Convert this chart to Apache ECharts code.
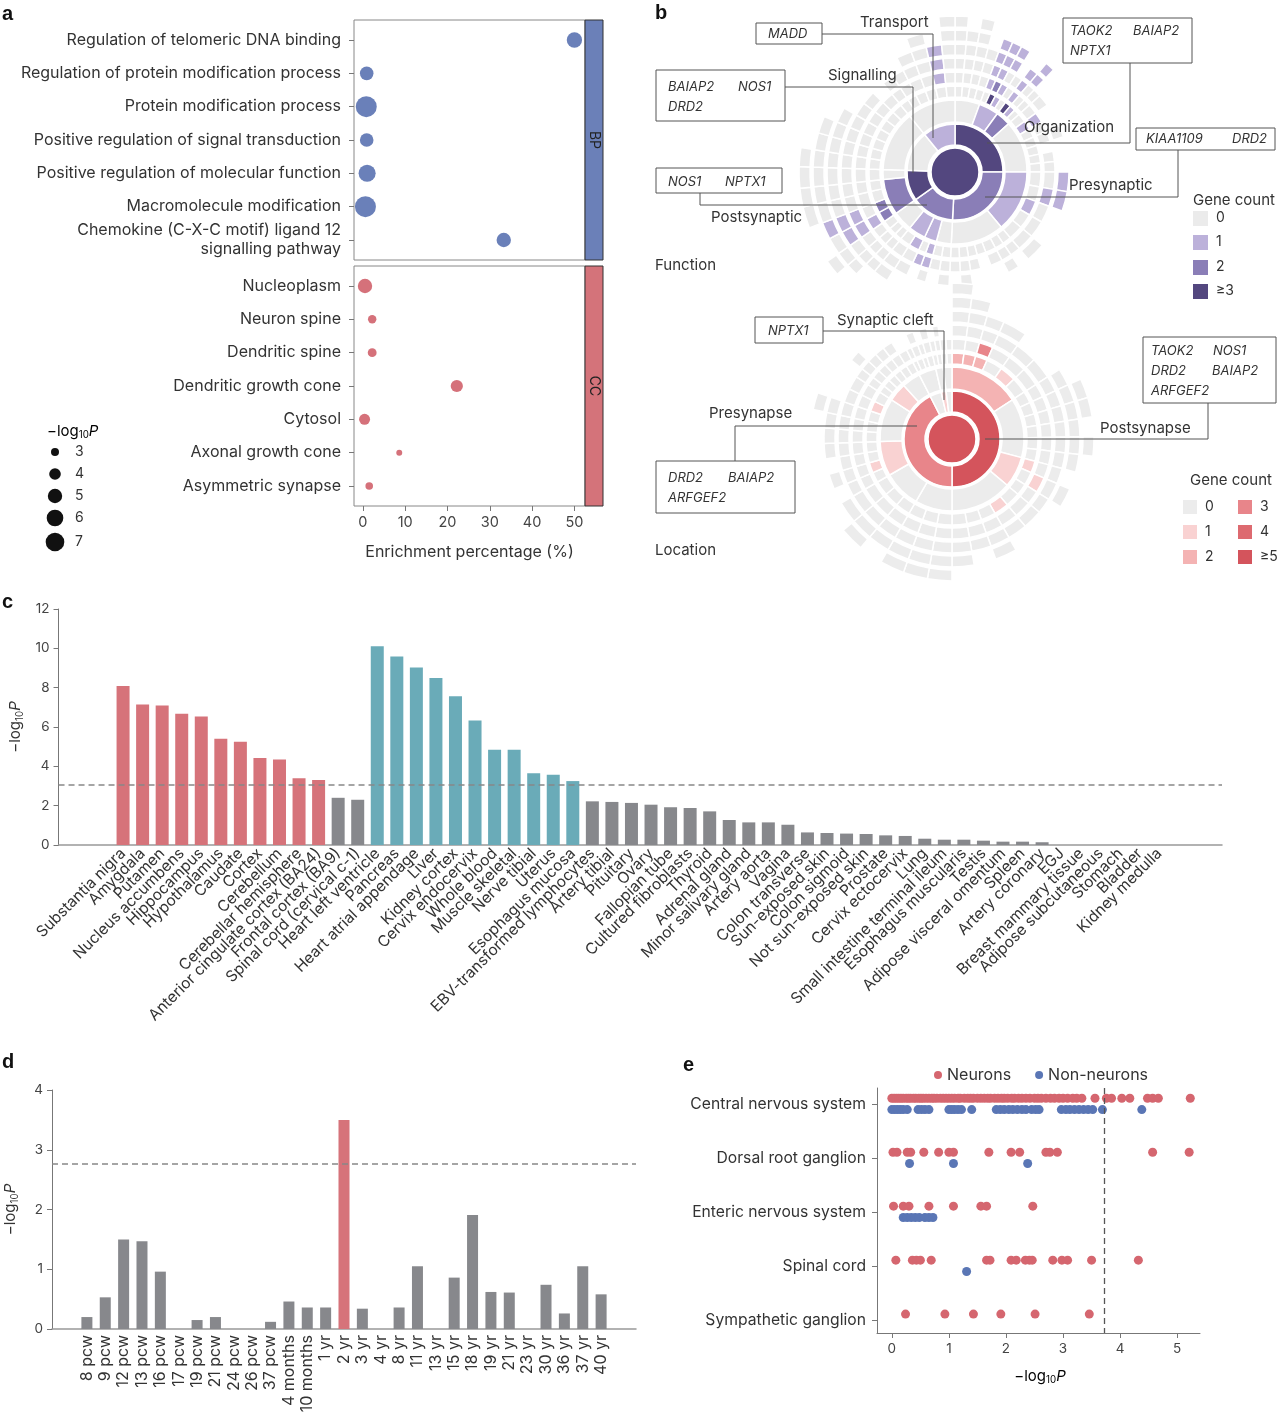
<!DOCTYPE html>
<html><head><meta charset="utf-8">
<script src="https://cdn.jsdelivr.net/npm/echarts@6/dist/echarts.min.js"></script>
<style>html,body{margin:0;padding:0;background:#fff}#c{width:1280px;height:1416px}</style>
</head><body><div id="c"></div><script>
// ---------- Panel a ----------
const bpTerms = ['Regulation of telomeric DNA binding','Regulation of protein modification process','Protein modification process','Positive regulation of signal transduction','Positive regulation of molecular function','Macromolecule modification','Chemokine (C-X-C motif) ligand 12\nsignalling pathway'];
const bpEnrich = [50.0, 0.9, 0.8, 0.9, 1.0, 0.6, 33.3];
const bpLogP = [5.4, 4.7, 8.3, 4.7, 6.2, 8.3, 5.0];
const ccTerms = ['Nucleoplasm','Neuron spine','Dendritic spine','Dendritic growth cone','Cytosol','Axonal growth cone','Asymmetric synapse'];
const ccEnrich = [0.5, 2.2, 2.2, 22.2, 0.4, 8.6, 1.5];
const ccLogP = [5.0, 3.1, 3.2, 4.2, 3.8, 2.6, 2.9];
const sizeBreaks = [3, 4, 5, 6, 7];
const enrichTicks = [0, 10, 20, 30, 40, 50];

// ---------- Panel b (sunbursts) ----------
// L2 entry: [name, geneCount, L3 list]; L3: [geneCount, width, spokes]; spoke: [width, count L4, count L5, ...]
const functionL2 = [
  ['Organization', 3, [
    [0, 20, [[5,0,0,0,0,0,0],[5,0,0,0,0,0],[5,0,0,0,0,0,0],[5,0,0,0,0]]],
    [1, 16, [[4,0,1,1,1,1],[4,3,2,1,1,1],[4,1,1,0,1,1],[4,0,0,0]]],
    [2, 12, [[4,3,1,1,1],[4,1,0,0,1,1],[4,0,0,0]]],
    [0, 42, [[6,0,0,0],[6,1,1],[6,0,0],[6,0,0,0],[6,0],[6,0,0],[6,0,0]]]
  ]],
  ['Presynaptic', 2, [
    [1, 50, [[10,0,0,1],[10,0,1,1],[10,1,0],[10,0,0],[10,0,0,0]]],
    [0, 43, [[6,0,0],[6,0,0,0],[7,0,0],[6,0],[6,0,0],[6,0,0,0],[6,0,0]]]
  ]],
  ['Postsynaptic', 2, [
    [0, 12, [[6,0,0,0],[6,0,0]]],
    [1, 10, [[5,1,1,0],[5,0,1]]],
    [1, 14, [[7,1,0,0],[7,0,0,0,0]]],
    [0, 16, [[5,0,0,0,0],[5,0,0,0,0,0],[6,0,0,0,0,0,0]]]
  ]],
  ['Signalling', 3, [
    [2, 29, [[7,2,1,1,1,0],[7,2,0,1,1,1],[8,0,0,0,0,0,0],[7,0,0,0,0,0,0]]],
    [0, 8, [[8,0,0,0,0,0,0]]]
  ]],
  ['Other', 0, [
    [0, 49, [[7,0,0,0,0,0,0],[7,0,0,0,0,0],[7,0,0,0,0,0],[7,0,0,0,0],[7,0,0,0],[7,0,0,0],[7,0,0]]]
  ]],
  ['Transport', 1, [
    [0, 39, [[6,0,0,0],[6,0,0,0],[7,0,0,0,0],[7,0,0,0,0,0],[7,0,1,1,1],[6,0,0,0,0,0,0]]]
  ]]
];
const locationL2 = [
  ['Postsynapse', 5, [
    [2, 57, [[8,2,0,0,0,0,0],[8,2,0,0,0,0],[8,2,3,0,0],[11,0,0,0,0],[11,1,0,0],[11,0,0,0]]],
    [0, 48, [[8,0,0,0,0],[8,0,0,0,0,0],[8,0,0,0,0,0],[8,0,0,0,0],[8,0,0,0,0,0],[8,0,0,0,0]]],
    [1, 25, [[8,1,0,0],[9,0,1,0,0],[8,0,0,0]]],
    [0, 50, [[10,0,0,0],[10,1,0,0],[10,0,0,0,0],[10,0,0,0],[10,0,0,0,0]]]
  ]],
  ['Presynapse', 3, [
    [0, 30, [[10,0,0,0,0,0],[10,0,0,0,0,0],[10,0,0,0,0,0]]],
    [0, 30, [[10,0,0,0,0],[10,0,0,0,0,0],[10,0,0,0,0]]],
    [1, 28, [[7,0,0,0],[7,1,0,0,0],[7,0,0,0],[7,0,0,0,0]]],
    [0, 35, [[7,0,0,0,0],[7,0,0,0,0],[7,0,0,0,0,0],[7,1,0,0],[7,0,0,0]]],
    [1, 15, [[5,0,0,0],[5,0,0,0,0],[5,0,0,0]]],
    [0, 15, [[5,0,0,0],[5,0,0,0],[5,0,0]]]
  ]],
  ['Other', 0, [
    [0, 14, [[3,0,0],[4,0,0,0],[3,0,0],[4,0,0,0]]]
  ]],
  ['Synaptic cleft', 1, [
    [0, 6, [[3,0,0],[3,0,0,0]]]
  ]],
  ['Other2', 0, [
    [0, 7, [[3.5,0,0],[3.5,0,0]]]
  ]]
];
const purpleScale = ['#ebebeb','#bcb1da','#8a7eb7','#53477f'];
const redScale = ['#ececec','#f9d2d2','#f4b3b3','#e8858a','#dd6a70','#d4545c'];

// ---------- Panel c ----------
const tissues = ['Substantia nigra','Amygdala','Putamen','Nucleus accumbens','Hippocampus','Hypothalamus','Caudate','Cortex','Cerebellum','Cerebellar hemisphere','Anterior cingulate cortex (BA24)','Frontal cortex (BA9)','Spinal cord (cervical c-1)','Heart left ventricle','Pancreas','Heart atrial appendage','Liver','Kidney cortex','Cervix endocervix','Whole blood','Muscle skeletal','Nerve tibial','Uterus','Esophagus mucosa','EBV-transformed lymphocytes','Artery tibial','Pituitary','Ovary','Fallopian tube','Cultured fibroblasts','Thyroid','Adrenal gland','Minor salivary gland','Artery aorta','Vagina','Colon transverse','Sun-exposed skin','Colon sigmoid','Not sun-exposed skin','Prostate','Cervix ectocervix','Lung','Small intestine terminal ileum','Esophagus muscularis','Testis','Adipose visceral omentum','Spleen','Artery coronary','EGJ','Breast mammary tissue','Adipose subcutaneous','Stomach','Bladder','Kidney medulla'];
const tissueLogP = [8.09,7.14,7.09,6.67,6.53,5.40,5.25,4.42,4.35,3.40,3.30,2.40,2.30,10.10,9.59,9.02,8.49,7.56,6.33,4.84,4.84,3.65,3.57,3.25,2.22,2.19,2.14,2.05,1.92,1.88,1.71,1.27,1.15,1.15,1.03,0.64,0.61,0.58,0.56,0.49,0.46,0.32,0.27,0.27,0.22,0.17,0.17,0.14,0,0,0,0,0,0];
const tissueGroup = ['B','B','B','B','B','B','B','B','B','B','B','N','N','T','T','T','T','T','T','T','T','T','T','T','N','N','N','N','N','N','N','N','N','N','N','N','N','N','N','N','N','N','N','N','N','N','N','N','N','N','N','N','N','N'];
const tissueThreshold = 3.05;

// ---------- Panel d ----------
const stages = ['8 pcw','9 pcw','12 pcw','13 pcw','16 pcw','17 pcw','19 pcw','21 pcw','24 pcw','26 pcw','37 pcw','4 months','10 months','1 yr','2 yr','3 yr','4 yr','8 yr','11 yr','13 yr','15 yr','18 yr','19 yr','21 yr','23 yr','30 yr','36 yr','37 yr','40 yr'];
const stageLogP = [0.20,0.53,1.50,1.47,0.96,0,0.15,0.20,0,0,0.12,0.46,0.36,0.36,3.50,0.34,0,0.36,1.05,0,0.86,1.91,0.62,0.61,0,0.74,0.26,1.05,0.58];
const stageSignificant = ['2 yr'];
const stageThreshold = 2.76;

// ---------- Panel e ----------
const nsTypes = ['Central nervous system','Dorsal root ganglion','Enteric nervous system','Spinal cord','Sympathetic ganglion'];
const neuronP = [
  [0.0,0.04,0.08,0.12,0.16,0.2,0.25,0.29,0.33,0.38,0.42,0.47,0.51,0.55,0.6,0.65,0.7,0.74,0.79,0.85,0.9,0.95,1.0,1.05,1.1,1.16,1.2,1.27,1.33,1.38,1.43,1.5,1.56,1.62,1.68,1.73,1.8,1.86,1.92,1.97,2.03,2.1,2.15,2.22,2.28,2.35,2.42,2.5,2.56,2.62,2.7,2.78,2.85,2.93,3.0,3.08,3.17,3.24,3.33,3.56,3.76,3.85,4.03,4.17,4.48,4.57,4.67,5.23],
  [0.02,0.09,0.27,0.33,0.56,0.82,1.0,1.08,1.70,2.09,2.24,2.70,2.77,2.90,4.57,5.21],
  [0.03,0.2,0.3,0.65,1.08,1.56,1.66,2.47],
  [0.07,0.36,0.43,0.50,0.69,1.66,1.72,2.09,2.18,2.34,2.41,2.46,2.82,2.98,3.08,3.50,4.32],
  [0.24,0.93,1.43,1.91,2.51,3.46]
];
const nonNeuronP = [
  [0.0,0.05,0.1,0.15,0.2,0.27,0.46,0.52,0.58,0.65,1.0,1.05,1.1,1.16,1.22,1.4,1.83,1.9,1.97,2.05,2.12,2.2,2.28,2.35,2.45,2.52,2.58,2.97,3.05,3.12,3.2,3.28,3.36,3.44,3.52,3.69,4.38],
  [0.31,1.08,2.38],
  [0.2,0.27,0.34,0.41,0.48,0.58,0.65,0.72],
  [1.31],
  []
];
const nsThreshold = 3.72;
const nsXTicks = [0, 1, 2, 3, 4, 5];

// ---------- helpers ----------
const FONT = 'Inter';
const RED = '#d5717a', BLUE = '#6a80b9', TEAL = '#6aabb8', GRAY = '#87888c';
const dotSize = v => 8.43 * Math.sqrt(Math.max(v - 2.1, 0.2));
const logRich = (fs) => ({a:{fontSize:fs, fontFamily:FONT, color:'#333'}, b:{fontSize:fs*0.65, fontFamily:FONT, color:'#333', padding:[fs*0.55,0,0,0]}, c:{fontSize:fs, fontFamily:FONT, fontStyle:'italic', color:'#333'}});
const LOGNAME = '{a|−log}{b|10}{c|P}';

function buildSunburst(rootName, rootCount, l2, pal) {
  const col = c => ({color: pal[Math.min(c, pal.length - 1)]});
  const chain = s => { let node = null; for (let i = s.length - 1; i >= 1; i--) { const n = {name:'', value:s[0], itemStyle:col(s[i])}; if (node) n.children = [node]; node = n; } return node; };
  return [{name: rootName, itemStyle: col(rootCount), children: l2.map(([nm, c, l3]) => ({
    name: nm, itemStyle: col(c),
    children: l3.map(([c3, w, spokes]) => ({name:'', value:w, itemStyle:col(c3), children: spokes.map(chain)}))
  }))}];
}
const ringLevels = [{}, {r0:0, r:24}, {r0:27, r:48}, {r0:50, r:72}, {r0:75, r:86}, {r0:89, r:100}, {r0:103, r:114}, {r0:117, r:128}, {r0:131, r:142}, {r0:145, r:156}];

// ---------- graphics ----------
const g = [];
const txt = (x, y, s, o = {}) => g.push({type:'text', x, y, z:100, silent:true, style:Object.assign({text:s, fill:'#333', font:`${o.size||15}px ${FONT}`, textAlign:o.align||'left', textVerticalAlign:'middle'}, o.style||{})});
const box = (x, y, w, h, items) => { g.push({type:'rect', z:100, silent:true, shape:{x, y, width:w, height:h}, style:{stroke:'#555', lineWidth:1, fill:'#fff'}}); items.forEach(([tx, ty, s]) => txt(tx, ty, s, {size:13, style:{font:`italic 13px ${FONT}`}})); };
// panel letters
[['a',2,14],['b',655,13],['c',2,602],['d',2,1062],['e',683,1065]].forEach(([s,x,y]) => txt(x, y, s, {style:{font:`bold 20px Arial`, fill:'#111'}}));
// panel a strips
g.push({type:'rect', silent:true, shape:{x:585, y:20, width:18, height:240}, style:{fill:'#6b80b8', stroke:'#333', lineWidth:1}});
g.push({type:'rect', silent:true, shape:{x:585, y:266, width:18, height:240}, style:{fill:'#d4737a', stroke:'#333', lineWidth:1}});
g.push({type:'text', silent:true, x:594, y:140, rotation:-Math.PI/2, style:{text:'BP', fill:'#222', font:`14px ${FONT}`, textAlign:'center', textVerticalAlign:'middle'}});
g.push({type:'text', silent:true, x:594, y:386, rotation:-Math.PI/2, style:{text:'CC', fill:'#222', font:`14px ${FONT}`, textAlign:'center', textVerticalAlign:'middle'}});
// panel a size legend
g.push({type:'text', silent:true, x:47, y:431, style:{text:LOGNAME, rich:logRich(15), textVerticalAlign:'middle'}});
sizeBreaks.forEach((v, i) => {
  const cy = [452, 474, 496, 518, 542][i];
  g.push({type:'circle', silent:true, shape:{cx:55, cy, r:dotSize(v)/2}, style:{fill:'#111'}});
  txt(75, cy, String(v), {size:14});
});
// panel b boxes, leader lines and labels
box(756, 23, 66, 21, [[768, 34, 'MADD']]);
box(656, 70, 129, 51, [[668, 87, 'BAIAP2'], [738, 87, 'NOS1'], [668, 107, 'DRD2']]);
box(1063, 18, 129, 45, [[1070, 31, 'TAOK2'], [1133, 31, 'BAIAP2'], [1070, 51, 'NPTX1']]);
box(1136, 128, 139, 22, [[1146, 139, 'KIAA1109'], [1232, 139, 'DRD2']]);
box(656, 168, 126, 25, [[668, 182, 'NOS1'], [725, 182, 'NPTX1']]);
box(755, 317, 68, 26, [[768, 331, 'NPTX1']]);
box(1143, 337, 133, 66, [[1151, 351, 'TAOK2'], [1213, 351, 'NOS1'], [1151, 371, 'DRD2'], [1212, 371, 'BAIAP2'], [1151, 391, 'ARFGEF2']]);
box(656, 461, 139, 52, [[668, 478, 'DRD2'], [728, 478, 'BAIAP2'], [668, 498, 'ARFGEF2']]);
const leaderLines = [
  [[822,34],[933,34],[933,138]], [[785,87],[913,87],[913,173]], [[1130,63],[1130,143],[987,143]],
  [[1178,150],[1178,197],[985,197]], [[700,193],[700,205],[927,205]],
  [[823,331],[944,331],[944,400]], [[1208,403],[1208,439],[985,439]], [[735,461],[735,426],[917,426]]
];
txt(860, 22, 'Transport'); txt(828, 75, 'Signalling'); txt(1024, 127, 'Organization'); txt(1069, 185, 'Presynaptic');
txt(711, 217, 'Postsynaptic'); txt(837, 320, 'Synaptic cleft'); txt(1100, 428, 'Postsynapse'); txt(709, 413, 'Presynapse');
txt(655, 265, 'Function'); txt(655, 550, 'Location');
// gene count legends
txt(1193, 200, 'Gene count');
['0','1','2','≥3'].forEach((s, i) => { const cy = [218,242,267,291][i]; g.push({type:'rect', silent:true, shape:{x:1193, y:cy-7, width:15, height:15}, style:{fill:purpleScale[i]}}); txt(1216, cy, s, {size:14}); });
txt(1190, 480, 'Gene count');
['0','1','2','3','4','≥5'].forEach((s, i) => { const col = i < 3 ? 0 : 1; const cy = [507,532,557][i % 3]; const x = col ? 1238 : 1183; g.push({type:'rect', silent:true, shape:{x, y:cy-7, width:14, height:14}, style:{fill:redScale[i]}}); txt(x + 22, cy, s, {size:14}); });
// panel e axis title
g.push({type:'text', silent:true, x:1040, y:1376, style:{text:LOGNAME, rich:logRich(15), textAlign:'center', textVerticalAlign:'middle'}});

// ---------- option ----------
const chart = echarts.init(document.getElementById('c'));
const axisLbl = (o) => Object.assign({color:'#444', fontSize:13, fontFamily:FONT, showMinLabel:true, showMaxLabel:true, hideOverlap:false}, o);
const AL = (show, color, width) => ({show, onZero:false, lineStyle:{color:color||'#777', width:width||1}});
// label positions for panel c: padded with one blank slot at each end so that every tissue label is kept
const tissueLabelPos = [-3].concat(tissues.map((t, i) => i), [56]);
const option = {
  animation: false,
  textStyle: {fontFamily: FONT},
  legend: {data:['Neurons','Non-neurons'], left:929, top:1062, icon:'circle', itemWidth:8, itemHeight:8, itemGap:24, textStyle:{fontSize:16, color:'#333', fontFamily:FONT}},
  grid: [
    {left:354, top:20, width:231, height:240, show:true, borderColor:'#888', borderWidth:1},
    {left:354, top:266, width:231, height:240, show:true, borderColor:'#888', borderWidth:1},
    {left:52, top:609, width:1170, height:236},
    {left:52, top:1090, width:584, height:239},
    {left:877, top:1088, width:323, height:245}
  ],
  xAxis: [
    {gridIndex:0, type:'value', min:-2.1, max:52.5, axisLine:AL(false), axisTick:{show:false}, axisLabel:{show:false}, splitLine:{show:false}},
    {gridIndex:1, type:'value', min:-2.1, max:52.5, axisLine:AL(false), axisTick:{show:true, length:5, lineStyle:{color:'#777'}, customValues:enrichTicks}, axisLabel:axisLbl({fontSize:14.5, margin:9, customValues:enrichTicks}), splitLine:{show:false},
      name:'Enrichment percentage (%)', nameLocation:'middle', nameGap:38, nameTextStyle:{fontSize:16, color:'#333', fontFamily:FONT}},
    {gridIndex:2, type:'value', min:-3.3, max:56.2, axisLine:AL(true,'#999',1.5), axisTick:{show:false}, splitLine:{show:false},
      axisLabel:axisLbl({fontSize:15.5, color:'#333', rotate:45, margin:6, showMinLabel:false, showMaxLabel:false, customValues:tissueLabelPos, formatter:v=>tissues[Math.round(v)]||''})},
    {gridIndex:3, type:'value', min:-1.9, max:29.9, axisLine:AL(true,'#999',1.5), axisTick:{show:false}, splitLine:{show:false},
      axisLabel:axisLbl({fontSize:16, color:'#333', rotate:90, margin:6, customValues:stages.map((t,i)=>i), formatter:v=>stages[Math.round(v)]||''})},
    {gridIndex:4, type:'value', min:-0.26, max:5.4, axisLine:AL(true), axisTick:{show:true, length:5, lineStyle:{color:'#777'}, customValues:nsXTicks}, splitLine:{show:false},
      axisLabel:axisLbl({fontSize:13.5, margin:9, customValues:nsXTicks})}
  ],
  yAxis: [
    {gridIndex:0, type:'value', inverse:true, min:-0.6, max:6.6, axisLine:AL(false), splitLine:{show:false}, axisTick:{show:true, length:5, lineStyle:{color:'#777'}, customValues:bpTerms.map((t,i)=>i)},
      axisLabel:axisLbl({fontSize:16, color:'#333', margin:13, lineHeight:19, customValues:bpTerms.map((t,i)=>i), formatter:v=>bpTerms[Math.round(v)]||''})},
    {gridIndex:1, type:'value', inverse:true, min:-0.6, max:6.6, axisLine:AL(false), splitLine:{show:false}, axisTick:{show:true, length:5, lineStyle:{color:'#777'}, customValues:ccTerms.map((t,i)=>i)},
      axisLabel:axisLbl({fontSize:16, color:'#333', margin:13, customValues:ccTerms.map((t,i)=>i), formatter:v=>ccTerms[Math.round(v)]||''})},
    {gridIndex:2, type:'value', min:0, max:12, interval:2, axisLine:AL(true), axisTick:{show:true, length:5, lineStyle:{color:'#777'}}, splitLine:{show:false},
      axisLabel:axisLbl({fontSize:13.5, margin:9}), name:LOGNAME, nameLocation:'middle', nameRotate:90, nameGap:32, nameTextStyle:{rich:logRich(15)}},
    {gridIndex:3, type:'value', min:0, max:4, interval:1, axisLine:AL(true), axisTick:{show:true, length:5, lineStyle:{color:'#777'}}, splitLine:{show:false},
      axisLabel:axisLbl({fontSize:13.5, margin:9}), name:LOGNAME, nameLocation:'middle', nameRotate:90, nameGap:32, nameTextStyle:{rich:logRich(15)}},
    {gridIndex:4, type:'value', inverse:true, min:-0.3, max:4.24, axisLine:AL(true), splitLine:{show:false}, axisTick:{show:true, length:5, lineStyle:{color:'#777'}, customValues:nsTypes.map((t,i)=>i)},
      axisLabel:axisLbl({fontSize:15.7, color:'#333', margin:11, customValues:nsTypes.map((t,i)=>i), formatter:v=>nsTypes[Math.round(v)]||''})}
  ],
  series: [
    {type:'scatter', xAxisIndex:0, yAxisIndex:0, data:bpEnrich.map((x,i)=>[x,i,bpLogP[i]]), symbolSize:d=>dotSize(d[2]), itemStyle:{color:BLUE, opacity:1}, silent:true},
    {type:'scatter', xAxisIndex:1, yAxisIndex:1, data:ccEnrich.map((x,i)=>[x,i,ccLogP[i]]), symbolSize:d=>dotSize(d[2]), itemStyle:{color:RED, opacity:1}, silent:true},
    {type:'bar', xAxisIndex:2, yAxisIndex:2, barWidth:13, silent:true,
      data:tissueLogP.map((v,i)=>({value:[i,v], itemStyle:{color: tissueGroup[i]==='B'?'#d6737a':tissueGroup[i]==='T'?TEAL:GRAY}})),
      markLine:{silent:true, symbol:'none', label:{show:false}, lineStyle:{color:'#888', type:[6,4], width:1.5}, data:[{yAxis:tissueThreshold}]}},
    {type:'bar', xAxisIndex:3, yAxisIndex:3, barWidth:11, silent:true,
      data:stageLogP.map((v,i)=>({value:[i,v], itemStyle:{color: stageSignificant.includes(stages[i])?'#d6737a':GRAY}})),
      markLine:{silent:true, symbol:'none', label:{show:false}, lineStyle:{color:'#888', type:[6,4], width:1.5}, data:[{yAxis:stageThreshold}]}},
    {name:'Neurons', type:'scatter', xAxisIndex:4, yAxisIndex:4, symbolSize:9, silent:true, itemStyle:{color:'#d5666f', opacity:1},
      data:neuronP.flatMap((arr,k)=>arr.map(x=>[x,k-0.11])),
      markLine:{silent:true, symbol:'none', label:{show:false}, lineStyle:{color:'#555', type:[6,4], width:1.3}, data:[{xAxis:nsThreshold}]}},
    {name:'Non-neurons', type:'scatter', xAxisIndex:4, yAxisIndex:4, symbolSize:9, silent:true, itemStyle:{color:'#5a76b5', opacity:1},
      data:nonNeuronP.flatMap((arr,k)=>arr.map(x=>[x,k+0.1]))},
    {type:'sunburst', center:[955,172], radius:[0,156], sort:null, startAngle:90, nodeClick:false, silent:true, emphasis:{disabled:true},
      label:{show:false}, itemStyle:{borderColor:'#fff', borderWidth:1.5}, levels:ringLevels, data:buildSunburst('Function', 3, functionL2, purpleScale)},
    {type:'sunburst', center:[952,439], radius:[0,156], sort:null, startAngle:90, nodeClick:false, silent:true, emphasis:{disabled:true},
      label:{show:false}, itemStyle:{borderColor:'#fff', borderWidth:1.5}, levels:ringLevels, data:buildSunburst('Location', 5, locationL2, redScale)}
  ],
  graphic: {elements: g.concat(leaderLines.map(p => ({type:'polyline', silent:true, z:100, shape:{points:p}, style:{stroke:'#555', lineWidth:1, fill:null}})))}
};
chart.setOption(option);
</script></body></html>
